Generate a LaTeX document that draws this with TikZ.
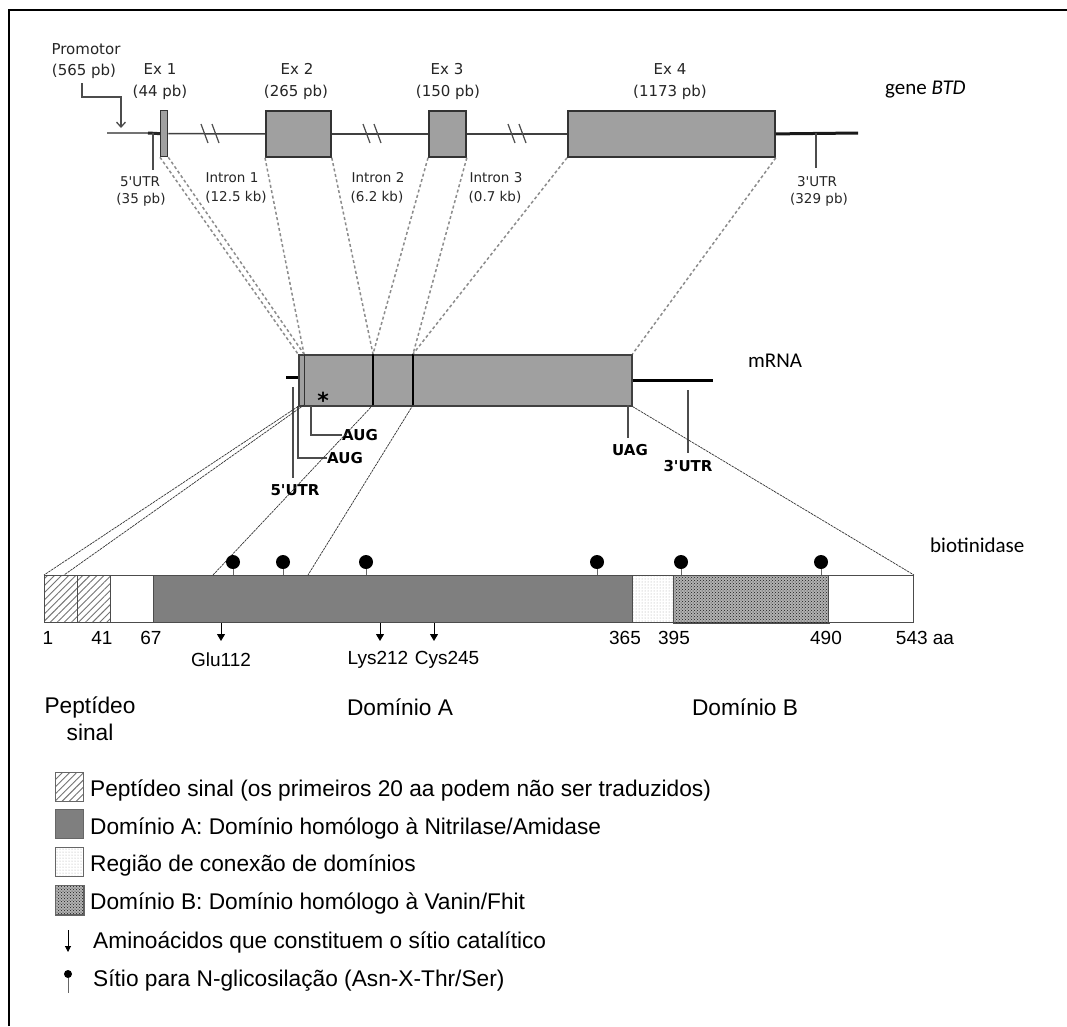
\documentclass[tikz,border=0pt]{standalone}
\usepackage{fontspec}
\setmainfont{DejaVu Sans}
\newfontfamily\arialf{Liberation Sans}
\newfontfamily\calf{Carlito}
\usetikzlibrary{arrows.meta,patterns,patterns.meta}
\newcommand\sq{{\XeTeXglyph\XeTeXcharglyph"0027\relax}}
\definecolor{exgray}{HTML}{A0A0A0}
\definecolor{domA}{HTML}{7F7F7F}
\begin{document}
\begin{tikzpicture}[x=1pt,y=-1pt,
  gl/.style={font=\fontsize{15}{18}\selectfont, inner sep=0pt, text=black!85},
  il/.style={font=\fontsize{13.5}{16}\selectfont, inner sep=0pt, text=black!85},
  bl/.style={font=\fontsize{15}{18}\selectfont\bfseries, inner sep=0pt},
  cl/.style={font=\calf\fontsize{21}{24}\selectfont, inner sep=0pt, anchor=west},
  al/.style={font=\arialf\fontsize{19}{22}\selectfont, inner sep=0pt},
  dl/.style={font=\arialf\fontsize{22.7}{27}\selectfont, inner sep=0pt},
  lg/.style={font=\arialf\fontsize{22.7}{27}\selectfont, inner sep=0pt, anchor=west},
  exon/.style={draw=black!80, line width=1.8pt, fill=exgray, inner sep=0pt, anchor=north west, minimum height=46pt},
  gline/.style={line width=1.5pt, black!75},
  tick/.style={line width=1.4pt, black!70},
  conn/.style={line width=1.5pt, black!45, dash pattern=on 3pt off 2.5pt},
  pconn/.style={line width=0.7pt, black!80, dash pattern=on 2.5pt off 0.8pt},
  seg/.style={draw=black!70, line width=1pt, inner sep=0pt, anchor=north west, minimum height=47pt},
  hatch/.style={pattern={Lines[angle=45,distance=5pt,line width=0.9pt]}, pattern color=black!55},
  cdots/.style={pattern=dots, pattern color=black!35},
  xdots/.style={pattern=crosshatch dots, pattern color=black!90},
  pin/.style={circle, fill=black, inner sep=0pt, minimum size=14pt},
  cat/.style={line width=1pt, -{Triangle[length=7pt,width=8pt]}},
  lsq/.style={draw=black!60, line width=1pt, inner sep=0pt, anchor=north west, minimum width=28pt, minimum height=29pt}
]
\useasboundingbox (0,0) rectangle (1067,1026);
\fill[white] (0,0) rectangle (1067,1026);
\draw[line width=2.2pt] (9,1026) -- (9,10) -- (1067,10);

% ---------------- gene
\coordinate (gstart) at (107,133);
\coordinate (utr5) at (148,133);
\coordinate (gend) at (858,133);
\draw[line width=1.2pt, black!55] (gstart) -- (utr5);
\node[exon, minimum width=7pt, line width=1.3pt] (ex1) at (160,110) {};
\node[exon, minimum width=65pt] (ex2) at (265,110) {};
\node[exon, minimum width=37pt] (ex3) at (428,110) {};
\node[exon, minimum width=207pt] (ex4) at (567,110) {};
\draw[line width=3pt, black!85] (utr5) -- (ex1.west);
\draw[gline] (ex1.east) -- (ex2.west);
\draw[gline] (ex2.east) -- (ex3.west);
\draw[gline] (ex3.east) -- (ex4.west);
\draw[line width=3pt, black!90] (ex4.east) -- (gend);
% break marks
\foreach \c in {210,372,517}{
  \draw[line width=1.2pt, black!70] (\c-9,124) -- (\c-2,143);
  \draw[line width=1.2pt, black!70] (\c+2,124) -- (\c+9,143);
}
% promoter
\node[gl] (prom) at (86,49) {Promotor};
\node[gl] (prombp) at (84,71) {(565 pb)};
\coordinate (pa) at (82,83);
\coordinate (pb) at (121,128);
\draw[line width=1.3pt, black!70, -{Straight Barb[length=5pt,width=9pt]}] (pa) |- (121,97) -- (pb);
% exon labels
\node[gl] (l1a) at (160,69) {Ex 1};
\node[gl] (l1b) at (160,92) {(44 pb)};
\node[gl] (l2a) at (297,69) {Ex 2};
\node[gl] (l2b) at (296,92) {(265 pb)};
\node[gl] (l3a) at (447,69) {Ex 3};
\node[gl] (l3b) at (448,92) {(150 pb)};
\node[gl] (l4a) at (670,69) {Ex 4};
\node[gl] (l4b) at (670,92) {(1173 pb)};
% UTR ticks
\coordinate (t5a) at (153,133); \coordinate (t5b) at (153,170);
\draw[tick] (t5a) -- (t5b);
\node[il] (u5a) at (140,182) {5\sq UTR};
\node[il] (u5b) at (141,200) {(35 pb)};
\coordinate (t3a) at (816,133); \coordinate (t3b) at (816,168);
\draw[tick] (t3a) -- (t3b);
\node[il] (u3a) at (817,182) {3\sq UTR};
\node[il] (u3b) at (819,200) {(329 pb)};
% intron labels
\node[il] (i1a) at (232,178) {Intron 1};
\node[il] (i1b) at (236,197) {(12.5 kb)};
\node[il] (i2a) at (378,178) {Intron 2};
\node[il] (i2b) at (377,197) {(6.2 kb)};
\node[il] (i3a) at (496,178) {Intron 3};
\node[il] (i3b) at (495,197) {(0.7 kb)};
\node[cl] (gene) at (885,90) {gene \textit{BTD}};

% ---------------- mRNA
\node[draw=black!75, line width=1.5pt, fill=exgray, inner sep=0pt, anchor=north west, minimum width=333pt, minimum height=51pt] (mrna) at (298,354) {};
\coordinate (mt1) at (304,354); \coordinate (mb1) at (304,405);
\coordinate (mt2) at (373,354); \coordinate (mb2) at (373,405);
\coordinate (mt3) at (413,354); \coordinate (mb3) at (413,405);
\draw[line width=1pt, black!80] (mt1) -- (mb1);
\draw[line width=2pt, black] (mt2) -- (mb2);
\draw[line width=2pt, black] (mt3) -- (mb3);
\coordinate (stub) at (286,377);
\draw[line width=3pt] (stub) -- (mrna.west |- stub);
\coordinate (tail) at (713,380);
\draw[line width=3pt] (mrna.east |- tail) -- (tail);
\node[font=\bfseries\fontsize{22}{24}\selectfont, inner sep=0pt] (star) at (323,400) {*};
\node[cl] (mrnal) at (748,361) {mRNA};

% gene -> mRNA connectors
\draw[conn] (ex1.south west) -- (mrna.north west);
\draw[conn] (ex1.south east) -- (mt1);
\draw[conn] (ex2.south west) -- (mt1);
\draw[conn] (ex2.south east) -- (mt2);
\draw[conn] (ex3.south west) -- (mt2);
\draw[conn] (ex3.south east) -- (mt3);
\draw[conn] (ex4.south west) -- (mt3);
\draw[conn] (ex4.south east) -- (mrna.north east);

% mRNA annotations
\coordinate (c5a) at (293,387); \coordinate (c5b) at (293,478);
\draw[tick, line width=1.6pt] (c5a) -- (c5b);
\node[bl] (utr5m) at (295,490) {5\sq UTR};
\node[bl, anchor=west] (aug1) at (342,435) {AUG};
\node[bl, anchor=west] (aug2) at (327,458) {AUG};
\draw[tick, line width=1.6pt] (311,406) |- (aug1.west);
\draw[tick, line width=1.6pt] (298,406) |- (aug2.west);
\coordinate (ua) at (628,405); \coordinate (ub) at (628,438);
\draw[tick, line width=1.6pt] (ua) -- (ub);
\node[bl] (uag) at (630,450) {UAG};
\coordinate (ra) at (688,390); \coordinate (rb) at (688,453);
\draw[tick, line width=1.6pt] (ra) -- (rb);
\node[bl] (utr3m) at (688,466) {3\sq UTR};

% ---------------- protein
\node[seg, hatch, minimum width=33pt] (s1) at (44,575) {};
\node[seg, hatch, minimum width=33pt] (s2) at (77,575) {};
\node[seg, fill=white, minimum width=43pt] (s3) at (110,575) {};
\node[seg, fill=domA, minimum width=479pt] (s4) at (153,575) {};
\node[seg, cdots, minimum width=41pt] (s5) at (632,575) {};
\node[seg, fill=black!30, minimum width=155pt] (s6) at (673,575) {};
\path[xdots] (s6.north west) rectangle (s6.south east);
\draw[black!70, line width=1pt] (s6.north west) rectangle (s6.south east);
\node[seg, fill=white, minimum width=85pt] (s7) at (828,575) {};
\node[cl] (biot) at (930,545) {biotinidase};

% mRNA -> protein connectors
\coordinate (pq) at (64,575);
\coordinate (pe2) at (213,575);
\coordinate (pe3) at (308,575);
\draw[pconn] (mrna.south west) -- (s1.north west);
\draw[pconn] (mb1) -- (pq);
\draw[pconn] (mb2) -- (pe2);
\draw[pconn] (mb3) -- (pe3);
\draw[pconn] (mrna.south east) -- (s7.north east);

% glycosylation pins
\foreach \x [count=\i] in {233,283,366,597,681,821}{
  \node[pin] (g\i) at (\x,562) {};
  \draw[line width=1pt, black!60] (g\i.south) -- (\x,575);
}
% catalytic arrows
\foreach \x/\n in {221/a,380/b,434/c}{
  \coordinate (ct\n) at (\x,623);
  \coordinate (cb\n) at (\x,641);
  \draw[cat] (ct\n) -- (cb\n);
}
\node[al] (n1) at (48,638) {1};
\node[al] (n41) at (102,638) {41};
\node[al] (n67) at (151,638) {67};
\node[al] (n365) at (625,638) {365};
\node[al] (n395) at (674,638) {395};
\node[al] (n490) at (826,638) {490};
\node[al] (n543) at (925,638) {543 aa};
\node[al] (glu) at (221,660) {Glu112};
\node[al] (lys) at (378,660) {Lys212};
\node[al] (cys) at (447,660) {Cys245};

\node[dl, align=center] (lpep) at (90,719) {Peptídeo\\sinal};
\node[dl] (ldA) at (400,707) {Domínio A};
\node[dl] (ldB) at (745,707) {Domínio B};

% ---------------- legend
\node[lsq, hatch] (q1) at (55,772) {};
\node[lg] (t1) at (90,790) {Peptídeo sinal (os primeiros 20 aa podem não ser traduzidos)};
\node[lsq, fill=domA] (q2) at (55,809) {};
\node[lg] (t2) at (90,828) {Domínio A: Domínio homólogo à Nitrilase/Amidase};
\node[lsq, cdots] (q3) at (55,847) {};
\node[lg] (t3) at (90,865) {Região de conexão de domínios};
\node[lg] (t4) at (90,903) {Domínio B: Domínio homólogo à Vanin/Fhit};
\node[lsq, fill=black!30] (q4) at (55,885) {};
\path[xdots] (q4.north west) rectangle (q4.south east);
\draw[black!60, line width=1pt] (q4.north west) rectangle (q4.south east);
\coordinate (la) at (68,930); \coordinate (lb) at (68,952);
\draw[line width=1pt, -{Triangle[length=6pt,width=6pt]}] (la) -- (lb);
\node[lg] (t5) at (93,942) {Aminoácidos que constituem o sítio catalítico};
\node[circle, fill=black, inner sep=0pt, minimum size=8pt] (lp) at (68,974) {};
\draw[line width=1pt, black!60] (lp.south) -- (68,993);
\node[lg] (t6) at (93,981) {Sítio para N-glicosilação (Asn-X-Thr/Ser)};
\end{tikzpicture}
\end{document}
